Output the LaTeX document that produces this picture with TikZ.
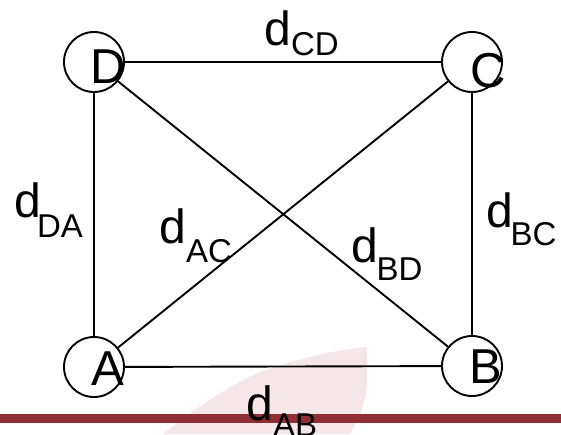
\documentclass[tikz,border=0pt]{standalone}
\usepackage{fontspec}
\setmainfont{Liberation Sans}
\definecolor{barred}{RGB}{143,47,52}
\definecolor{palepink}{RGB}{245,231,233}
\newcommand{\dsub}[3]{d\kern#2pt\raisebox{-#3pt}{\fontsize{33}{34}\selectfont #1}}
\begin{document}
\begin{tikzpicture}[x=1pt,y=-1pt,line width=1.9pt,
  vtx/.style={circle,draw,minimum size=60pt,inner sep=0pt},
  vlet/.style={inner sep=0pt,anchor=base west,font=\fontsize{49}{50}\selectfont},
  lab/.style={inner sep=0pt,anchor=base west,font=\fontsize{48}{50}\selectfont},
  edge/.style={draw,line width=1.9pt}]
\useasboundingbox (0,0) rectangle (561,434);
% faint background shape
\fill[palepink] (163,434) .. controls (200,405) and (230,385) .. (260,372)
  .. controls (300,358) and (335,350) .. (367,347)
  -- (367,385) .. controls (365,405) and (358,420) .. (350,434) -- cycle;
% bar
\fill[barred] (0,414) rectangle (561,423);
% vertices
\node[vtx] (D) at (94,62) {};
\node[vtx] (C) at (472,62) {};
\node[vtx] (A) at (94,367) {};
\node[vtx] (B) at (472,366) {};
% edges
\draw[edge] (D) -- (C);
\draw[edge] (D) -- (A);
\draw[edge] (C) -- (B);
\draw[edge] (A) -- (B);
\draw[edge] (A) -- (C);
\draw[edge] (D) -- (B);
% vertex letters
\node[vlet] (tD) at (89.2,83) {D};
\node[vlet] (tC) at (469.5,87) {C};
\node[vlet] (tA) at (91,385) {A};
\node[vlet] (tB) at (468.4,383) {B};
% edge labels
\node[lab] (lCD) at (263.4,45) {\dsub{CD}{0}{10}};
\node[lab] (lDA) at (13.4,217) {\dsub{DA}{-4}{20}};
\node[lab] (lAC) at (158.4,243) {\dsub{AC}{0}{19}};
\node[lab] (lBD) at (350.4,262) {\dsub{BD}{-1.5}{18}};
\node[lab] (lBC) at (485.4,227) {\dsub{BC}{-2.5}{18}};
\node[lab] (lAB) at (245.4,420) {\dsub{AB}{0}{16}};
\end{tikzpicture}
\end{document}
